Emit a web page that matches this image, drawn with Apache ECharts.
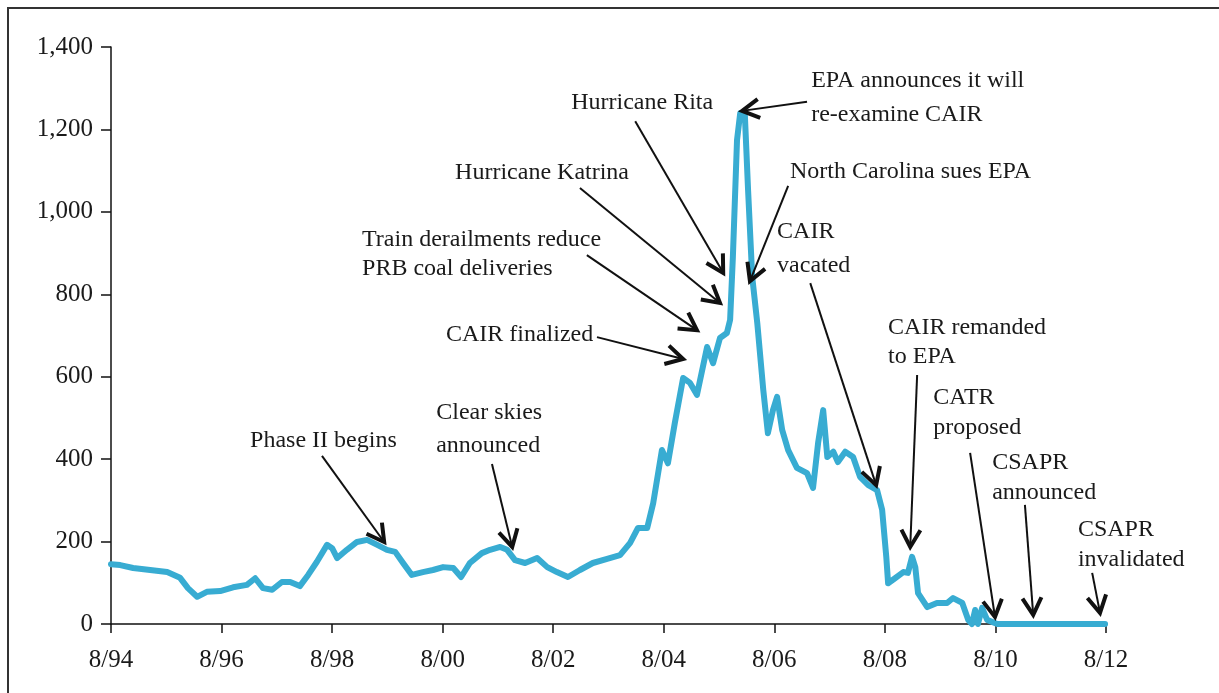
<!DOCTYPE html>
<html><head><meta charset="utf-8">
<script src="https://cdn.jsdelivr.net/npm/echarts@6/dist/echarts.min.js"></script>
<style>html,body{margin:0;padding:0;background:#fff}#c{width:1219px;height:693px}</style>
</head><body><div id="c"></div>
<script>
// months since August 1994
const months = [0,2,4.8,8.5,12.2,15,16.7,18.7,20.8,23.7,
  26.5,29.5,31.3,33,35,37.1,38.9,41,42.8,44.7,
  46.9,48,49.1,51.2,53.4,55.6,57.8,59.9,61.7,63.4,
  65.3,67.7,69.9,72.1,74.3,76,77.9,80.5,82.3,84.5,
  86,87.7,89.9,92.5,94.7,96.8,99.2,101.8,104.6,107.7,
  110.5,112.7,114.4,116.4,117.7,119.6,120.9,122.4,124.2,125.7,
  127.2,129.4,130.7,132.2,133.7,134.4,135,135.9,136.6,137.6,
  138.3,139.2,140.3,141.6,142.6,143.7,144.6,145.7,147,148.9,
  151.1,152.4,153.5,154.6,155.5,156.8,157.8,159.4,161.1,162.6,
  164.4,166.3,167.4,168.3,168.7,170.2,172,173,173.9,174.6,
  175.2,177.2,179.3,181.5,182.8,184.8,186.1,186.9,187.6,188.2,
  189.1,190.2,192.4,215.8];
// allowance price
const prices = [145,143,136,131,126,112,87,66,78,80,
  89,95,111,87,83,102,102,92,119,151,
  192,184,160,180,199,204,192,180,175,148,
  119,126,131,138,136,114,148,172,180,187,
  180,155,148,160,138,126,114,131,148,158,
  167,197,233,233,293,422,390,488,597,585,
  556,672,633,694,706,738,890,1174,1240,1235,
  1053,842,730,568,463,519,551,471,422,379,
  366,330,439,519,405,418,393,418,405,357,
  337,325,277,163,99,111,126,124,163,138,
  75,41,51,51,63,51,10,0,34,0,
  39,10,0,0];
const xTickLabels = ['8/94','8/96','8/98','8/00','8/02','8/04','8/06','8/08','8/10','8/12'];

// annotation texts
const annoTexts = [
  ['Phase II begins'],
  ['Clear skies','announced'],
  ['CAIR finalized'],
  ['Train derailments reduce','PRB coal deliveries'],
  ['Hurricane Katrina'],
  ['Hurricane Rita'],
  ['EPA announces it will','re-examine CAIR'],
  ['North Carolina sues EPA'],
  ['CAIR','vacated'],
  ['CAIR remanded','to EPA'],
  ['CATR','proposed'],
  ['CSAPR','announced'],
  ['CSAPR','invalidated']
];
// annotation placement in data coordinates [month, price]
const annoLabelAt = [[30.2,444],[70.6,512],[72.7,701],[54.5,932],[74.7,1094],[99.9,1264],[152.0,1318],[147.4,1097],[144.6,951],[168.7,718],[178.5,548],[191.3,391],[209.9,228]];
const annoTail = [[45.8,408],[82.7,388],[105.5,696],[103.3,895],[101.8,1058],[113.8,1220],[151.1,1267],[147.0,1063],[151.8,827],[175.0,604],[186.5,415],[198.4,289],[213.0,124]];
const annoHead = [[59.3,199],[87.1,187],[124.2,643],[127.2,713],[132.2,779],[132.9,852],[137.0,1245],[138.7,832],[166.1,337],[173.5,187],[191.9,17],[200.2,22],[214.7,27]];
const annoLineGap = [30,33,30,29,30,30,34,30,34,29,30,30,30];

const FONT = '"Liberation Serif", "DejaVu Serif", serif';
const chart = echarts.init(document.getElementById('c'));
const seriesData = months.map((m,i)=>[m, prices[i]]);

chart.setOption({
  animation:false,
  backgroundColor:'#fff',
  grid:{left:111, right:113, top:47, bottom:69, containLabel:false},
  xAxis:{type:'value', min:0, max:216, interval:24,
    axisLine:{show:true, onZero:false, lineStyle:{color:'#111', width:1.5}},
    axisTick:{show:true, inside:false, length:9, lineStyle:{color:'#111', width:1.5}},
    axisLabel:{margin:24, fontFamily:FONT, fontSize:25, color:'#1a1a1a',
      formatter:(v)=>xTickLabels[Math.round(v/24)]||''},
    splitLine:{show:false}},
  yAxis:{type:'value', min:0, max:1400, interval:200,
    axisLine:{show:true, lineStyle:{color:'#111', width:1.5}},
    axisTick:{show:true, inside:false, length:10, lineStyle:{color:'#111', width:1.5}},
    axisLabel:{margin:18, fontFamily:FONT, fontSize:25, color:'#1a1a1a',
      formatter:(v)=>v.toLocaleString('en-US')},
    splitLine:{show:false}},
  series:[{type:'line', data:seriesData, showSymbol:false, clip:false,
    lineStyle:{color:'#38ACD2', width:6, join:'round', cap:'round'}, z:3}]
});

function buildGraphics(){
  const els = [];
  els.push({type:'rect', shape:{x:8, y:8, width:1240, height:720},
    style:{fill:'none', stroke:'#333', lineWidth:2}, silent:true, z:0});
  annoTexts.forEach((lines,i)=>{
    const p = chart.convertToPixel({gridIndex:0}, annoLabelAt[i]);
    const gap = annoLineGap[i];
    els.push({type:'text', x:p[0], y:p[1]-gap/2, z:10,
      style:{text:lines.join('\n'), font:'24px '+FONT, fill:'#1a1a1a',
        lineHeight:gap, align:'left', verticalAlign:'top'}});
    const t = chart.convertToPixel({gridIndex:0}, annoTail[i]);
    const h = chart.convertToPixel({gridIndex:0}, annoHead[i]);
    els.push({type:'line', z:10, shape:{x1:t[0], y1:t[1], x2:h[0], y2:h[1]},
      style:{stroke:'#111', lineWidth:2}});
    const dx = h[0]-t[0], dy = h[1]-t[1];
    const len = Math.sqrt(dx*dx+dy*dy);
    const ux = dx/len, uy = dy/len;
    const L = 17, W = 9.5;
    const bx = h[0]-L*ux, by = h[1]-L*uy;
    els.push({type:'polyline', z:11,
      shape:{points:[[bx - W*uy, by + W*ux],[h[0],h[1]],[bx + W*uy, by - W*ux]]},
      style:{stroke:'#111', lineWidth:4, fill:'none', lineJoin:'miter'}});
  });
  chart.setOption({graphic:{elements:els}});
}
buildGraphics();
</script>
</body></html>
